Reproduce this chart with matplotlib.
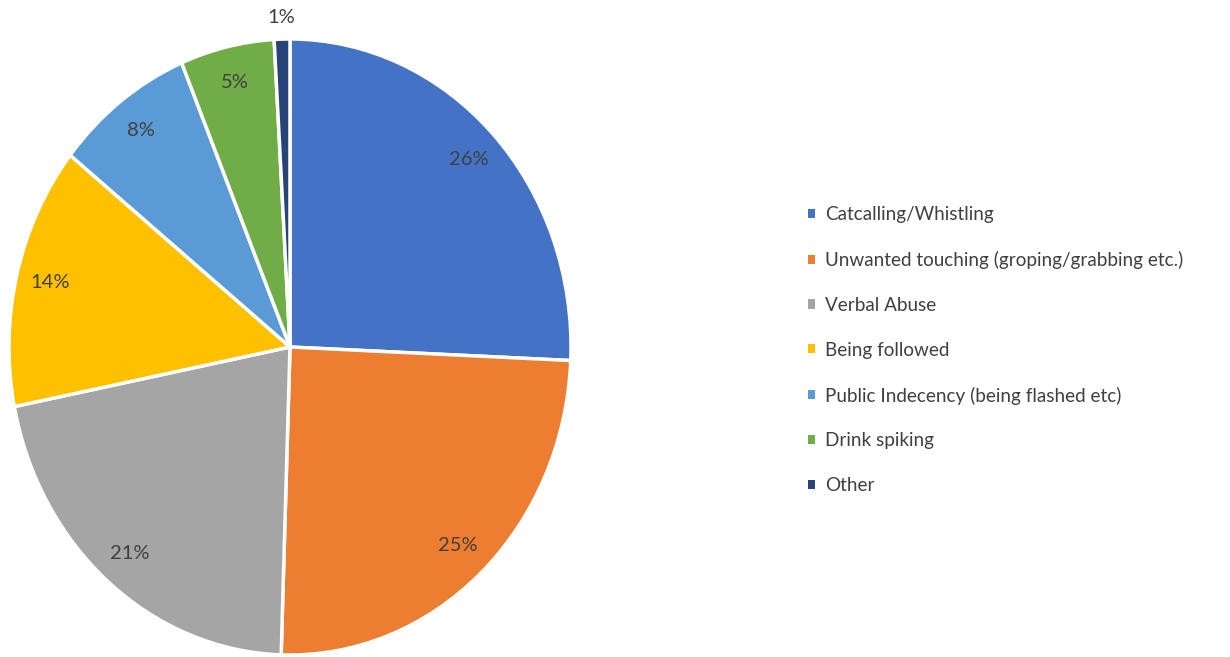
import matplotlib.pyplot as plt
from matplotlib.patches import Patch

categories = ["Catcalling/Whistling",
              "Unwanted touching (groping/grabbing etc.)",
              "Verbal Abuse",
              "Being followed",
              "Public Indecency (being flashed etc)",
              "Drink spiking",
              "Other"]
# shares, labels show rounded values
shares = [25.7, 24.8, 21.4, 13.8, 8.0, 5.4, 0.9]
colors = ["#4472C4", "#ED7D31", "#A5A5A5", "#FFC000", "#5B9BD5", "#70AD47", "#264478"]

plt.rcParams['font.family'] = ['Lato', 'DejaVu Sans']

fig = plt.figure(figsize=(12.3, 6.57), dpi=100)
# pie area is a bit taller than wide in the reference
ax = fig.add_axes([9 / 1230, 2 / 657, 562 / 1230, 616 / 657])

wedges, texts, autotexts = ax.pie(
    shares, colors=colors, startangle=90, counterclock=False,
    autopct='%.0f%%', pctdistance=0.88,
    wedgeprops=dict(edgecolor='white', linewidth=2.5),
    textprops=dict(color='#404040', fontsize=14.5))

# smallest slice label sits outside the pie
last = autotexts[-1]
x, y = last.get_position()
r = (x ** 2 + y ** 2) ** 0.5
last.set_position((x / r * 1.07, y / r * 1.07))

ax.set_aspect('auto')
ax.set_xlim(-1, 1)
ax.set_ylim(-1, 1)

handles = [Patch(facecolor=c, edgecolor='none') for c in colors]
fig.legend(handles, categories, loc='upper left',
           bbox_to_anchor=(808 / 1230, 1 - 206 / 657),
           frameon=False, fontsize=13.6, handlelength=0.37, handleheight=0.37,
           handletextpad=0.53, labelspacing=1.475, labelcolor='#404040',
           borderpad=0, borderaxespad=0)

fig.savefig("out.png", dpi=100)
